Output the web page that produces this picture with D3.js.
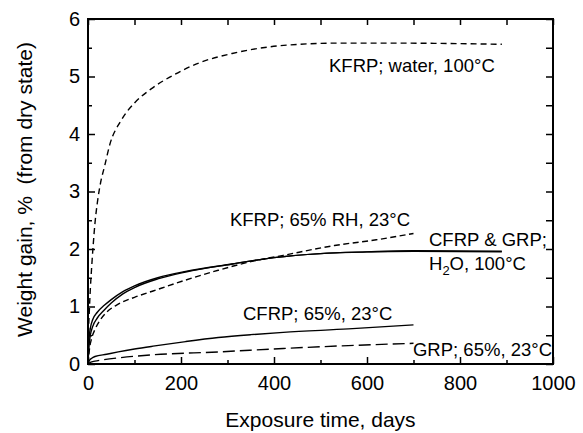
<!DOCTYPE html>
<html>
<head>
<meta charset="utf-8">
<script src="https://cdn.jsdelivr.net/npm/d3@7"></script>
<style>
  html, body { margin: 0; padding: 0; background: #fff; }
  svg { display: block; font-family: "Liberation Sans", Arial, sans-serif; }
</style>
</head>
<body>
<svg id="chart" width="583" height="433"></svg>
<script>
// Moisture uptake curves: [exposure days, weight gain %]
const kfrpWater = [[0,0],[1,0.5],[3,0.95],[5,1.3],[8,1.7],[11,2.05],[15,2.45],[20,2.8],[27,3.15],[36,3.45],[47,3.82],[70,4.22],[100,4.54],[135,4.78],[185,5.03],[240,5.24],[310,5.40],[385,5.51],[455,5.56],[530,5.58],[670,5.58],[890,5.56]];
const kfrpRH = [[0,0],[3,0.25],[8,0.45],[15,0.6],[25,0.75],[40,0.9],[65,1.04],[100,1.16],[140,1.27],[210,1.46],[280,1.63],[350,1.78],[420,1.89],[530,2.06],[620,2.16],[700,2.27]];
const cfrpWater = [[0,0],[2,0.42],[5,0.62],[10,0.77],[20,0.9],[35,1.02],[50,1.12],[75,1.26],[100,1.36],[150,1.5],[210,1.61],[310,1.74],[400,1.85],[500,1.92],[600,1.95],[700,1.97],[890,1.96]];
const grpWater = [[0,0],[2,0.3],[5,0.5],[10,0.65],[20,0.8],[35,0.94],[50,1.06],[75,1.22],[100,1.33],[150,1.48],[210,1.60],[310,1.74],[400,1.85],[500,1.92],[600,1.95],[700,1.96],[890,1.95]];
const cfrpRH = [[0,0],[3,0.06],[8,0.1],[15,0.13],[40,0.17],[65,0.21],[100,0.26],[140,0.31],[210,0.39],[280,0.46],[350,0.51],[420,0.55],[560,0.61],[700,0.68]];
const grpRH = [[0,0],[5,0.03],[15,0.05],[30,0.07],[70,0.11],[140,0.16],[280,0.21],[420,0.27],[560,0.32],[700,0.36]];

const xMajor = [0, 200, 400, 600, 800, 1000];
const xMinor = [100, 300, 500, 700, 900];
const yMajor = [0, 1, 2, 3, 4, 5, 6];
const yMinor = [0.5, 1.5, 2.5, 3.5, 4.5, 5.5];

const xTitle = "Exposure time, days";
const yTitle = "Weight gain, %  (from dry state)";

const svg = d3.select("#chart");
const L = 88, R = 553, T = 19, B = 364;

const x = d3.scaleLinear().domain([0, 1000]).range([L, R]);
const y = d3.scaleLinear().domain([0, 6]).range([B, T]);

// axes with inward ticks
function styleAxis(g) {
  g.select(".domain").remove();
  g.selectAll(".tick line").attr("stroke", "#000").attr("stroke-width", 1.5);
  g.selectAll(".tick text").attr("fill", "#000").attr("font-size", 20)
    .attr("font-family", "Liberation Sans, Arial, sans-serif");
}

svg.append("g").attr("transform", `translate(0,${B})`)
  .call(d3.axisBottom(x).tickValues(xMajor).tickSize(-7).tickPadding(12).tickFormat(d3.format("d")))
  .call(styleAxis);
svg.append("g").attr("transform", `translate(0,${B})`)
  .call(d3.axisBottom(x).tickValues(xMinor).tickSize(-4).tickFormat(""))
  .call(styleAxis);
svg.append("g").attr("transform", `translate(0,${T})`)
  .call(d3.axisTop(x).tickValues(xMajor.concat(xMinor)).tickSize(-6).tickFormat(""))
  .call(styleAxis);

svg.append("g").attr("transform", `translate(${L},0)`)
  .call(d3.axisLeft(y).tickValues(yMajor).tickSize(-7).tickPadding(8).tickFormat(d3.format("d")))
  .call(styleAxis);
svg.append("g").attr("transform", `translate(${L},0)`)
  .call(d3.axisLeft(y).tickValues(yMinor).tickSize(-4).tickFormat(""))
  .call(styleAxis);
svg.append("g").attr("transform", `translate(${R},0)`)
  .call(d3.axisRight(y).tickValues(yMajor.concat(yMinor)).tickSize(-7).tickFormat(""))
  .call(styleAxis);

// frame
svg.append("rect").attr("x", L).attr("y", T).attr("width", R - L).attr("height", B - T)
  .attr("fill", "none").attr("stroke", "#000").attr("stroke-width", 2);

// curves
const line = d3.line().x(d => x(d[0])).y(d => y(d[1])).curve(d3.curveMonotoneX);
const series = [
  { data: kfrpWater, dash: "6,4" },
  { data: kfrpRH, dash: "6,3.5" },
  { data: cfrpWater, dash: null },
  { data: grpWater, dash: null },
  { data: cfrpRH, dash: null },
  { data: grpRH, dash: "12,5" }
];
svg.append("g").selectAll("path").data(series).join("path")
  .attr("d", s => line(s.data))
  .attr("fill", "none").attr("stroke", "#000").attr("stroke-width", 1.4)
  .attr("stroke-dasharray", s => s.dash);

// curve labels
const labels = svg.append("g").attr("font-size", 18.5).attr("fill", "#000");
labels.append("text").attr("x", 329).attr("y", 72).text("KFRP; water, 100°C");
labels.append("text").attr("x", 410).attr("y", 226).attr("text-anchor", "end").text("KFRP; 65% RH, 23°C");
labels.append("text").attr("x", 429).attr("y", 246).text("CFRP & GRP;");
const h2o = labels.append("text").attr("x", 429).attr("y", 270);
h2o.append("tspan").text("H");
h2o.append("tspan").attr("dy", 5).attr("font-size", 13).text("2");
h2o.append("tspan").attr("dy", -5).text("O, 100°C");
labels.append("text").attr("x", 243).attr("y", 320).text("CFRP; 65%, 23°C");
labels.append("text").attr("x", 552).attr("y", 356).attr("text-anchor", "end").text("GRP; 65%, 23°C");

// axis titles
svg.append("text").attr("x", (L + R) / 2).attr("y", 427).attr("text-anchor", "middle")
  .attr("font-size", 21).text(xTitle);
svg.append("text").attr("transform", `translate(32,${(T + B) / 2 - 2}) rotate(-90)`)
  .attr("text-anchor", "middle").attr("font-size", 21).style("white-space", "pre").text(yTitle);
</script>
</body>
</html>
